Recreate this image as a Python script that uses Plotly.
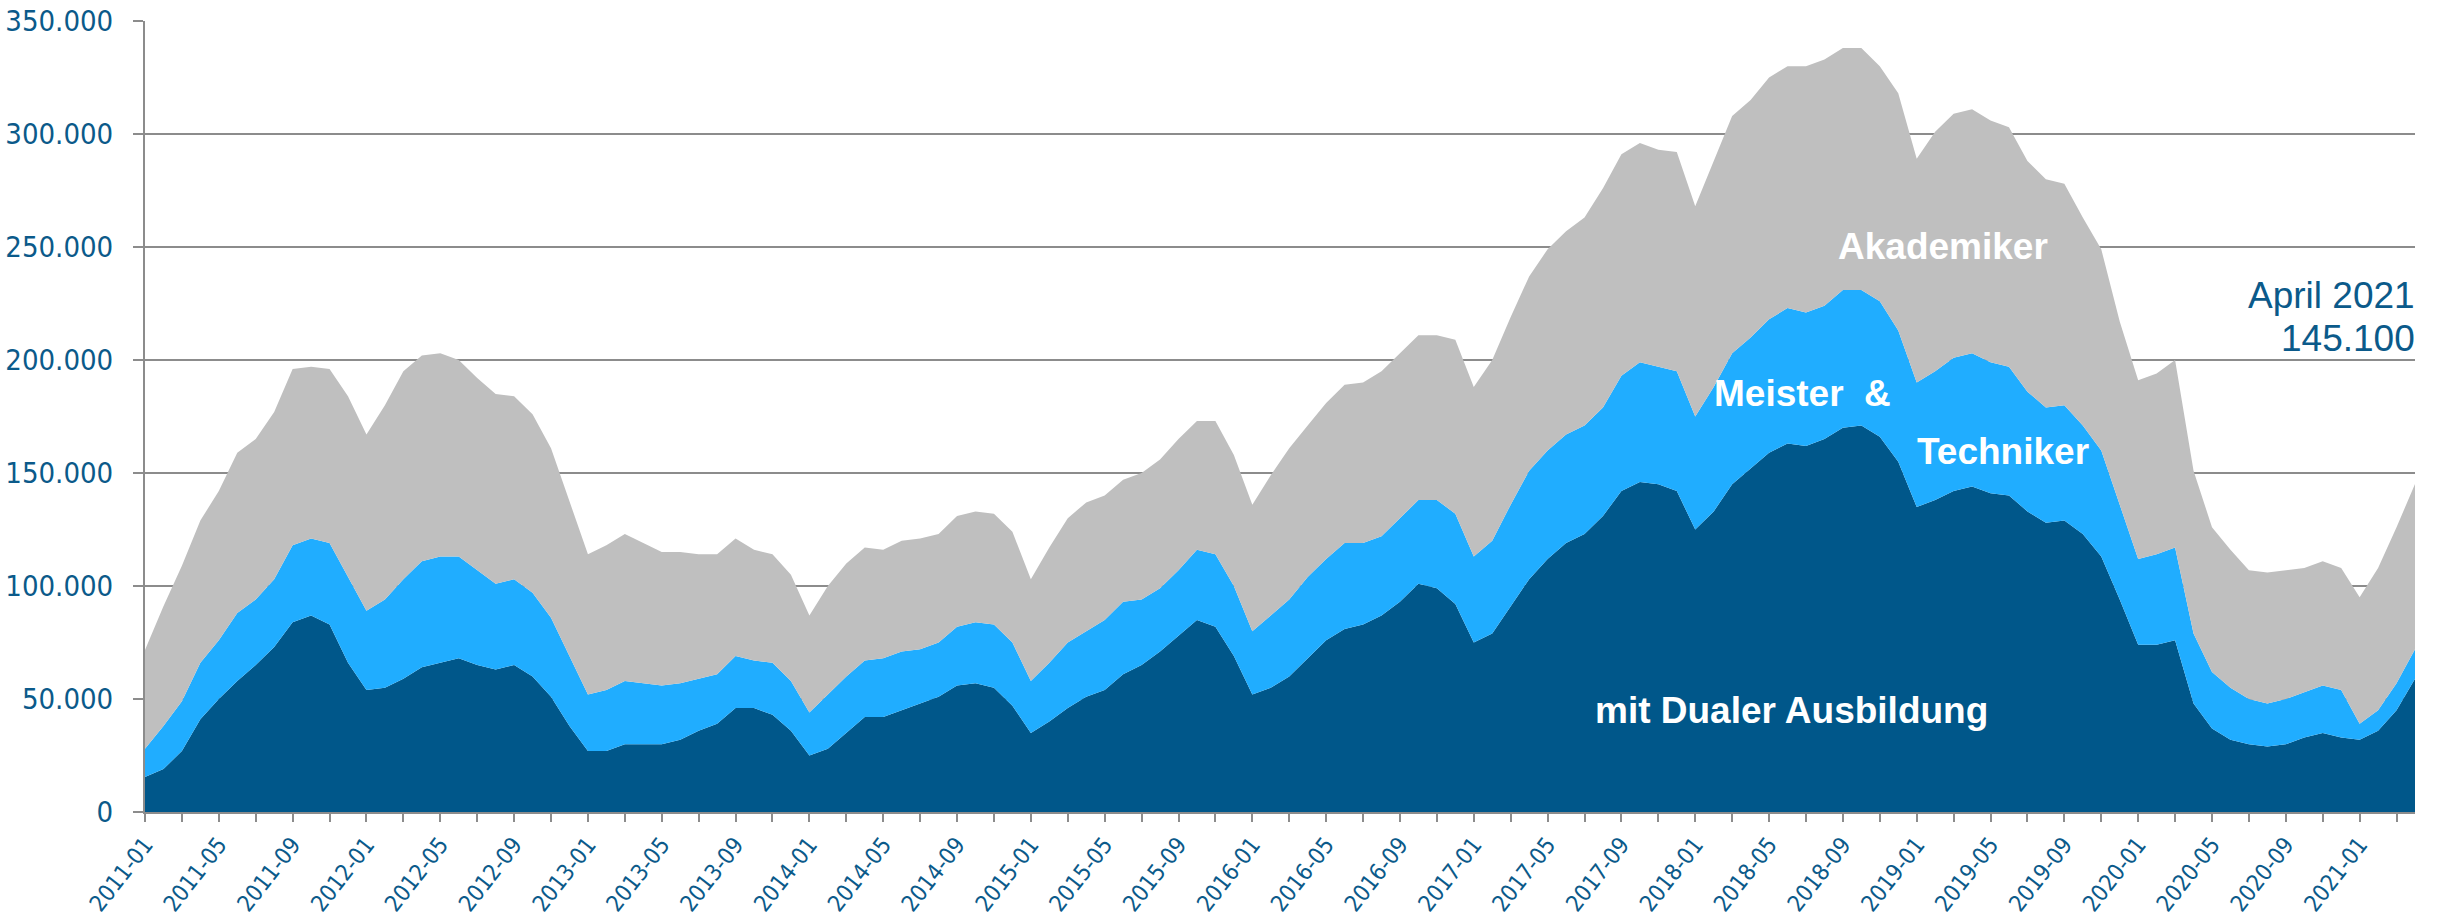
import pandas as pd
import plotly.graph_objects as go

# ── Daten (in Tausend), Monatswerte 2011-01 bis 2021-04 ─────────────────────
MONATE = [p.strftime("%Y-%m") for p in pd.period_range("2011-01", "2021-04", freq="M")]

DUALE_AUSBILDUNG = [
    15.5, 19, 27, 41, 50, 58, 65, 73, 84, 87, 83, 66,
    54, 55, 59, 64, 66, 68, 65, 63, 65, 60, 51, 38,
    27, 27, 30, 30, 30, 32, 36, 39, 46, 46, 43, 36,
    25, 28, 35, 42, 42, 45, 48, 51, 56, 57, 55, 47,
    35, 40, 46, 51, 54, 61, 65, 71, 78, 85, 82, 69,
    52, 55, 60, 68, 76, 81, 83, 87, 93, 101, 99, 92,
    75, 79, 91, 103, 112, 119, 123, 131, 142, 146, 145, 142,
    125, 133, 145, 152, 159, 163, 162, 165, 170, 171, 166, 155,
    135, 138, 142, 144, 141, 140, 133, 128, 129, 123, 113, 94,
    74, 74, 76, 48, 37, 32, 30, 29, 30, 33, 35, 33,
    32, 36, 45, 59,
]
MEISTER_TECHNIKER = [
    12.5, 19, 22, 25, 26, 30, 29, 30, 34, 34, 36, 38,
    35, 39, 44, 47, 47, 45, 42, 38, 38, 37, 35, 31,
    25, 27, 28, 27, 26, 25, 23, 22, 23, 21, 23, 22,
    19, 24, 25, 25, 26, 26, 24, 24, 26, 27, 28, 28,
    23, 26, 29, 29, 31, 32, 29, 28, 29, 31, 32, 31,
    28, 32, 34, 36, 36, 38, 36, 35, 37, 37, 39, 40,
    38, 41, 45, 48, 48, 48, 48, 48, 51, 53, 52, 53,
    50, 55, 58, 58, 59, 60, 59, 59, 61, 60, 60, 58,
    55, 57, 59, 59, 58, 57, 53, 51, 51, 48, 47, 42,
    38, 40, 41, 31, 25, 23, 20, 19, 20, 20, 21, 21,
    7, 9, 12, 13,
]
AKADEMIKER = [
    43.7, 53, 60, 63, 66, 71, 71, 74, 78, 76, 77, 80,
    78, 86, 92, 91, 90, 87, 85, 84, 81, 79, 75, 69,
    62, 64, 65, 62, 59, 58, 55, 53, 52, 49, 48, 47,
    43, 48, 50, 50, 48, 49, 49, 48, 49, 49, 49, 49,
    45, 51, 55, 57, 55, 54, 56, 57, 58, 57, 59, 58,
    56, 62, 67, 67, 69, 70, 71, 73, 73, 73, 73, 77,
    75, 80, 83, 86, 89, 90, 92, 97, 98, 97, 96, 97,
    93, 100, 105, 105, 107, 107, 109, 109, 107, 107, 104, 105,
    99, 106, 108, 108, 107, 106, 102, 101, 98, 92, 89, 81,
    79, 80, 83, 72, 64, 61, 57, 58, 57, 55, 55, 54,
    56, 63, 69, 73.1,
]

# ── Farben ───────────────────────────────────────────────────────────────────
FARBEN = {
    "dual":    "#00578A",
    "meister": "#20ADFF",
    "akadem":  "#BFBFBF",
    "text":    "#0B5A8A",
    "gitter":  "#8C8C8C",
}
SCHRIFT_ACHSE = "DejaVu Sans Condensed, DejaVu Sans, sans-serif"
SCHRIFT_LABEL = "Liberation Sans, Arial, sans-serif"

x = list(range(len(MONATE)))

fig = go.Figure()
for werte, farbe, name in [
    (DUALE_AUSBILDUNG, FARBEN["dual"], "mit Dualer Ausbildung"),
    (MEISTER_TECHNIKER, FARBEN["meister"], "Meister & Techniker"),
    (AKADEMIKER, FARBEN["akadem"], "Akademiker"),
]:
    fig.add_trace(go.Scatter(
        x=x,
        y=[v * 1000 for v in werte],
        name=name,
        mode="lines",
        line=dict(width=0, color=farbe),
        fillcolor=farbe,
        stackgroup="eins",
        hoverinfo="skip",
    ))

tickvals = x[::2]
ticktext = [MONATE[i] if i % 4 == 0 else "" for i in tickvals]

fig.update_layout(
    width=2446,
    height=918,
    plot_bgcolor="white",
    paper_bgcolor="white",
    separators=",.",
    showlegend=False,
    margin=dict(l=145, r=31, t=21, b=106),
    xaxis=dict(
        range=[0, len(MONATE) - 1],
        tickvals=tickvals,
        ticktext=ticktext,
        tickangle=-52,
        automargin=False,
        showgrid=False,
        zeroline=False,
        showline=True,
        linecolor=FARBEN["gitter"],
        linewidth=2,
        ticks="outside",
        ticklen=8,
        tickwidth=2,
        tickcolor=FARBEN["gitter"],
        tickfont=dict(family=SCHRIFT_ACHSE, size=23, color=FARBEN["text"]),
    ),
    yaxis=dict(
        range=[0, 350000],
        dtick=50000,
        tickformat=",.0f",
        automargin=False,
        showgrid=True,
        gridcolor=FARBEN["gitter"],
        gridwidth=2,
        zeroline=False,
        showline=True,
        linecolor=FARBEN["gitter"],
        linewidth=2,
        ticks="outside",
        ticklen=10,
        tickwidth=2,
        tickcolor=FARBEN["gitter"],
        ticklabelstandoff=14,
        tickfont=dict(family=SCHRIFT_ACHSE, size=29, color=FARBEN["text"]),
    ),
)

# ── Beschriftungen ───────────────────────────────────────────────────────────
weiss_fett = dict(family=SCHRIFT_LABEL, size=37, color="white", weight="bold")
for text, xp, yp in [
    ("Akademiker", 97.4, 250300),
    ("Meister\u00a0 &", 89.8, 185300),
    ("Techniker", 100.7, 159700),
    ("mit Dualer Ausbildung", 89.2, 44700),
]:
    fig.add_annotation(x=xp, y=yp, text=text, showarrow=False,
                       xanchor="center", yanchor="middle", font=weiss_fett)

blau = dict(family=SCHRIFT_LABEL, size=37, color=FARBEN["text"])
fig.add_annotation(x=1.001, xref="paper", y=228700, text="April 2021", showarrow=False,
                   xanchor="right", yanchor="middle", font=blau)
fig.add_annotation(x=1.001, xref="paper", y=209600, text="145.100", showarrow=False,
                   xanchor="right", yanchor="middle", font=blau)

# Seitenrand des Browsers entfernen, damit die Grafik genau ins Fenster passt
fig.write_html(
    "out.html",
    config={"displayModeBar": False},
    post_script="document.body.style.margin='0px';",
)
